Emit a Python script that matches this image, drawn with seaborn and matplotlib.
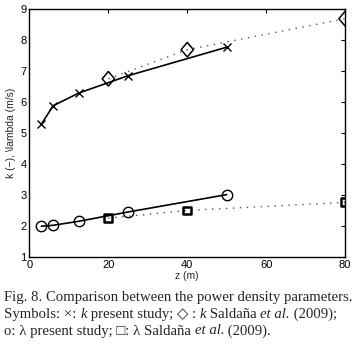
import matplotlib
matplotlib.use("Agg")
import matplotlib.pyplot as plt
from matplotlib.markers import MarkerStyle
from matplotlib.transforms import Affine2D
import seaborn as sns
import pandas as pd

# data
z_present = [3, 6, 12.5, 25, 50]
k_present = [5.28, 5.88, 6.29, 6.85, 7.77]
lam_present = [1.99, 2.02, 2.15, 2.45, 3.01]
z_sald = [20, 40, 80]
k_sald = [6.75, 7.69, 8.69]
lam_sald = [2.25, 2.50, 2.76]
xticks = [0, 20, 40, 60, 80]
yticks = [1, 2, 3, 4, 5, 6, 7, 8, 9]

sns.set_theme(style="white")
plt.rcParams['font.family'] = ['Liberation Sans', 'DejaVu Sans']

fig = plt.figure(figsize=(3.55, 3.5), dpi=100)
ax = fig.add_axes([0.083, 0.266, 0.889, 0.708])

df_kp = pd.DataFrame({"z": z_present, "v": k_present})
df_lp = pd.DataFrame({"z": z_present, "v": lam_present})
df_ks = pd.DataFrame({"z": z_sald, "v": k_sald})
df_ls = pd.DataFrame({"z": z_sald, "v": lam_sald})

dot = (0, (1, 4))
sns.lineplot(data=df_ks, x="z", y="v", ax=ax, color="#555555", lw=1.0, linestyle=dot,
             sort=False, estimator=None)
sns.lineplot(data=df_ls, x="z", y="v", ax=ax, color="#555555", lw=1.0, linestyle=dot,
             sort=False, estimator=None)
sns.lineplot(data=df_kp, x="z", y="v", ax=ax, color="black", lw=1.2, marker="x",
             markersize=5.5, markeredgewidth=1.0, markeredgecolor="black",
             sort=False, estimator=None)
sns.lineplot(data=df_lp, x="z", y="v", ax=ax, color="black", lw=1.2, marker="o",
             markersize=7.5, markerfacecolor="none", markeredgecolor="black",
             markeredgewidth=1.0, sort=False, estimator=None)
diamond = MarkerStyle("D", transform=Affine2D().scale(0.85, 1.0))
sns.scatterplot(data=df_ks, x="z", y="v", ax=ax, marker=diamond, s=55, facecolor="none",
                edgecolor="black", linewidth=1.1, zorder=5)
sns.scatterplot(data=df_ls, x="z", y="v", ax=ax, marker="s", s=32, facecolor="none",
                edgecolor="black", linewidth=1.8, zorder=5)

ax.set_xlim(0, 80)
ax.set_ylim(1, 9)
ax.set_xticks(xticks)
ax.set_yticks(yticks)
ax.tick_params(direction="in", length=3, width=0.8, top=True, right=True,
               labelsize=8, pad=2, colors="black")
for s in ax.spines.values():
    s.set_visible(True)
    s.set_color("black")
    s.set_linewidth(1.0)
ax.set_xlabel("z (m)", fontsize=7.5, labelpad=1)
ax.set_ylabel("k (\u2212), \\lambda (m/s)", fontsize=7.5, labelpad=3)
ax.grid(False)

# caption
serif = ['Liberation Serif', 'DejaVu Serif']
fs = 10.6
lines = [
    [("Fig. 8. Comparison between the power density parameters.", "normal")],
    [("Symbols: \u00d7: ", "normal"), ("k", "italic"), (" present study; \u25c7 : ", "normal"),
     ("k", "italic"), (" Salda\u00f1a ", "normal"), ("et al.", "italic"), (" (2009);", "normal")],
    [("o: \u03bb present study; \u25a1: \u03bb Salda\u00f1a ", "normal"), ("et al.", "italic"),
     (" (2009).", "normal")],
]
ys = [1 - 298/350, 1 - 314.5/350, 1 - 331/350]
fig.canvas.draw()
r = fig.canvas.get_renderer()
for line, y in zip(lines, ys):
    x = 4/355
    for txt, st in line:
        t = fig.text(x, y, txt, fontsize=fs, family=serif, style=st, va="center", ha="left")
        bb = t.get_window_extent(renderer=r)
        x += bb.width / fig.bbox.width

fig.savefig("out.png", dpi=100)
